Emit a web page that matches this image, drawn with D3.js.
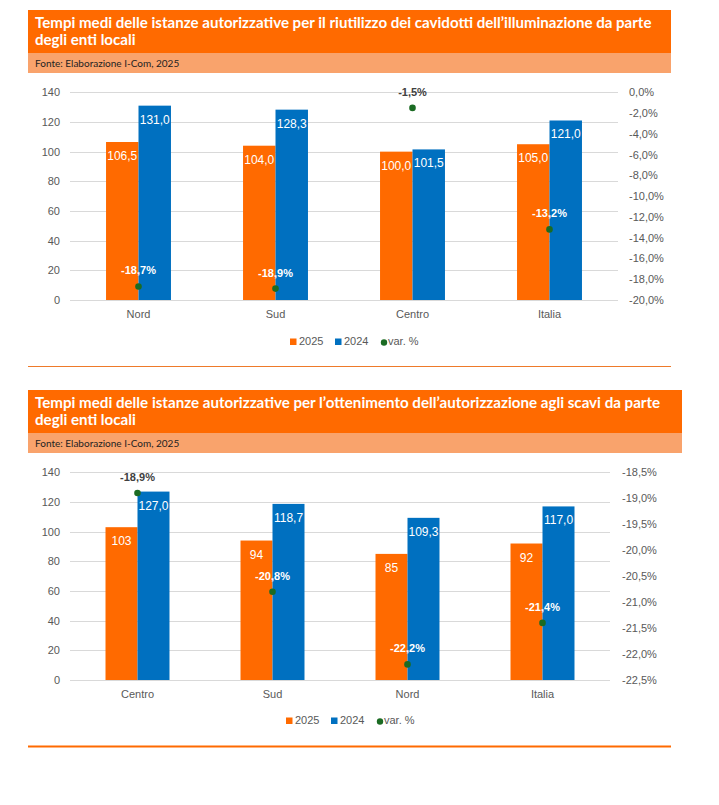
<!DOCTYPE html>
<html>
<head>
<meta charset="utf-8">
<script src="https://cdn.jsdelivr.net/npm/d3@7"></script>
<style>
  html, body { margin: 0; padding: 0; background: #fff; }
  svg { display: block; }
</style>
</head>
<body>
<svg id="chart" width="719" height="805"></svg>
<script>
// ---------- DATA ----------
const title1 = ["Tempi medi delle istanze autorizzative per il riutilizzo dei cavidotti dell\u2019illuminazione da parte", "degli enti locali"];
const title2 = ["Tempi medi delle istanze autorizzative per l\u2019ottenimento dell\u2019autorizzazione agli scavi da parte", "degli enti locali"];
const sourceText = "Fonte: Elaborazione I-Com, 2025";

const categories1 = ["Nord", "Sud", "Centro", "Italia"];
const values2025_1 = [106.5, 104.0, 100.0, 105.0];
const values2024_1 = [131.0, 128.3, 101.5, 121.0];
const varPct1 = [-18.7, -18.9, -1.5, -13.2];
const leftTicks1 = [0, 20, 40, 60, 80, 100, 120, 140];
const rightTicks1 = [0, -2, -4, -6, -8, -10, -12, -14, -16, -18, -20];

const categories2 = ["Centro", "Sud", "Nord", "Italia"];
const values2025_2 = [103, 94, 85, 92];
const values2024_2 = [127.0, 118.7, 109.3, 117.0];
const varPct2 = [-18.9, -20.8, -22.2, -21.4];
const leftTicks2 = [0, 20, 40, 60, 80, 100, 120, 140];
const rightTicks2 = [-18.5, -19.0, -19.5, -20.0, -20.5, -21.0, -21.5, -22.0, -22.5];

const seriesNames = ["2025", "2024", "var. %"];

// ---------- STYLE ----------
const C_ORANGE = "#FF6A00";
const C_BLUE = "#0070C0";
const C_GREEN = "#1B6B23";
const C_SUB = "#F9A36C";
const C_GRID = "#D9D9D9";
const C_TEXT = "#595959";

const it = d3.formatLocale({decimal: ",", thousands: ".", grouping: [3], currency: ["", "\u20AC"], minus: "-"});
const f1 = it.format(".1f");
const f0 = it.format(".0f");

const svg = d3.select("#chart");

function header(g, lines, x0, x1, top, titleTargetW) {
  g.append("rect").attr("x", x0).attr("y", top).attr("width", x1 - x0).attr("height", 43).attr("fill", C_ORANGE);
  g.append("rect").attr("x", x0).attr("y", top + 43).attr("width", x1 - x0).attr("height", 20).attr("fill", C_SUB);
  const t1 = g.append("text").attr("x", 35).attr("y", top + 18).attr("fill", "#fff")
    .attr("font-family", "Lato, 'Open Sans', sans-serif").attr("font-weight", 700).attr("font-size", 14).text(lines[0]);
  const w = t1.node().getComputedTextLength();
  const fs = 14 * titleTargetW / w;
  t1.attr("font-size", fs);
  g.append("text").attr("x", 35).attr("y", top + 35).attr("fill", "#fff")
    .attr("font-family", "Lato, 'Open Sans', sans-serif").attr("font-weight", 700).attr("font-size", fs).text(lines[1]);
  g.append("text").attr("x", 35).attr("y", top + 56.5).attr("fill", "#222")
    .attr("font-family", "Lato, 'Open Sans', sans-serif").attr("font-size", 10).text(sourceText);
}

function chart(cfg) {
  const g = svg.append("g");
  header(g, cfg.title, 28, cfg.headerRight, cfg.top, cfg.titleW);

  const y = d3.scaleLinear().domain([0, 140]).range([cfg.y0, cfg.y140]);
  const yR = d3.scaleLinear().domain([cfg.rTicks[cfg.rTicks.length - 1], cfg.rTicks[0]]).range([cfg.y0, cfg.y140]);
  const x = d3.scaleBand().domain(cfg.cats).range([70, cfg.xRight]).padding(0);
  const bw = x.bandwidth() * 0.237;

  // gridlines
  g.append("g").selectAll("line").data(cfg.lTicks).join("line")
    .attr("x1", 70).attr("x2", cfg.xRight)
    .attr("y1", d => Math.round(y(d)) + 0.5).attr("y2", d => Math.round(y(d)) + 0.5)
    .attr("stroke", C_GRID).attr("stroke-width", 1);

  // left axis
  const axL = g.append("g").attr("transform", `translate(62,0)`)
    .call(d3.axisLeft(y).tickValues(cfg.lTicks).tickSize(0).tickPadding(2).tickFormat(d3.format("d")));
  axL.select(".domain").remove();
  axL.selectAll("text").attr("fill", C_TEXT).attr("font-size", 11).attr("font-family", "'Liberation Sans', Arial, sans-serif");

  // right axis
  const axR = g.append("g").attr("transform", `translate(${cfg.rLabelX},0)`)
    .call(d3.axisRight(yR).tickValues(cfg.rTicks).tickSize(0).tickPadding(0).tickFormat(d => f1(d) + "%"));
  axR.select(".domain").remove();
  axR.selectAll("text").attr("fill", C_TEXT).attr("font-size", 11).attr("font-family", "'Liberation Sans', Arial, sans-serif");

  // bottom category axis
  const axB = g.append("g").attr("transform", `translate(0,${cfg.y0})`)
    .call(d3.axisBottom(x).tickSize(0).tickPadding(10));
  axB.select(".domain").remove();
  axB.selectAll("text").attr("fill", C_TEXT).attr("font-size", 11).attr("font-family", "'Liberation Sans', Arial, sans-serif");

  const rows = cfg.cats.map((c, i) => ({c, a: cfg.v25[i], b: cfg.v24[i], p: cfg.vp[i]}));

  // bars 2025
  g.append("g").selectAll("rect").data(rows).join("rect")
    .attr("x", d => x(d.c) + x.bandwidth() / 2 - bw).attr("width", bw)
    .attr("y", d => y(d.a)).attr("height", d => y(0) - y(d.a)).attr("fill", C_ORANGE);
  // bars 2024
  g.append("g").selectAll("rect").data(rows).join("rect")
    .attr("x", d => x(d.c) + x.bandwidth() / 2).attr("width", bw)
    .attr("y", d => y(d.b)).attr("height", d => y(0) - y(d.b)).attr("fill", C_BLUE);

  // bar labels
  g.append("g").selectAll("text").data(rows).join("text")
    .attr("x", d => x(d.c) + x.bandwidth() / 2 - bw / 2).attr("y", d => y(d.a) + 18)
    .attr("text-anchor", "middle").attr("fill", "#fff").attr("font-size", 12)
    .attr("font-family", "'Liberation Sans', Arial, sans-serif").text(d => cfg.fmt25(d.a));
  g.append("g").selectAll("text").data(rows).join("text")
    .attr("x", d => x(d.c) + x.bandwidth() / 2 + bw / 2).attr("y", d => y(d.b) + 18)
    .attr("text-anchor", "middle").attr("fill", "#fff").attr("font-size", 12)
    .attr("font-family", "'Liberation Sans', Arial, sans-serif").text(d => f1(d.b));

  // dots
  g.append("g").selectAll("circle").data(rows).join("circle")
    .attr("cx", d => x(d.c) + x.bandwidth() / 2).attr("cy", d => yR(d.p)).attr("r", 3.3).attr("fill", C_GREEN);
  g.append("g").selectAll("text").data(rows).join("text")
    .attr("x", d => x(d.c) + x.bandwidth() / 2).attr("y", d => yR(d.p) - 12)
    .attr("text-anchor", "middle").attr("font-size", 11).attr("font-weight", 700)
    .attr("font-family", "'Liberation Sans', Arial, sans-serif")
    .attr("fill", d => (yR(d.p) - 16 < Math.min(y(d.a), y(d.b))) ? "#404040" : "#fff")
    .text(d => f1(d.p) + "%");

  // legend
  const lg = g.append("g").attr("transform", `translate(${cfg.legX},${cfg.legY})`)
    .attr("font-family", "'Liberation Sans', Arial, sans-serif").attr("font-size", 11).attr("fill", C_TEXT);
  lg.append("rect").attr("x", 0).attr("y", -6.5).attr("width", 6.5).attr("height", 6.5).attr("fill", C_ORANGE);
  lg.append("text").attr("x", 9).attr("y", 0).text(seriesNames[0]);
  lg.append("rect").attr("x", 45).attr("y", -6.5).attr("width", 6.5).attr("height", 6.5).attr("fill", C_BLUE);
  lg.append("text").attr("x", 54).attr("y", 0).text(seriesNames[1]);
  lg.append("circle").attr("cx", 94).attr("cy", -2.5).attr("r", 3.2).attr("fill", C_GREEN);
  lg.append("text").attr("x", 98).attr("y", 0).text(seriesNames[2]);

  // separator
  g.append("line").attr("x1", 28).attr("x2", 671).attr("y1", cfg.sepY).attr("y2", cfg.sepY)
    .attr("stroke", cfg.sepColor).attr("stroke-width", cfg.sepW);
}

chart({
  title: title1, top: 10, headerRight: 671, titleW: 617,
  cats: categories1, v25: values2025_1, v24: values2024_1, vp: varPct1,
  lTicks: leftTicks1, rTicks: rightTicks1,
  y0: 300, y140: 92.3, xRight: 618, rLabelX: 629,
  fmt25: f1, legX: 290, legY: 345, sepY: 366.5, sepColor: "#EE7A2A", sepW: 1.2
});

chart({
  title: title2, top: 390, headerRight: 682, titleW: 626,
  cats: categories2, v25: values2025_2, v24: values2024_2, vp: varPct2,
  lTicks: leftTicks2, rTicks: rightTicks2,
  y0: 680, y140: 472.3, xRight: 610, rLabelX: 622,
  fmt25: f0, legX: 286, legY: 724, sepY: 746.5, sepColor: C_ORANGE, sepW: 2
});
</script>
</body>
</html>
